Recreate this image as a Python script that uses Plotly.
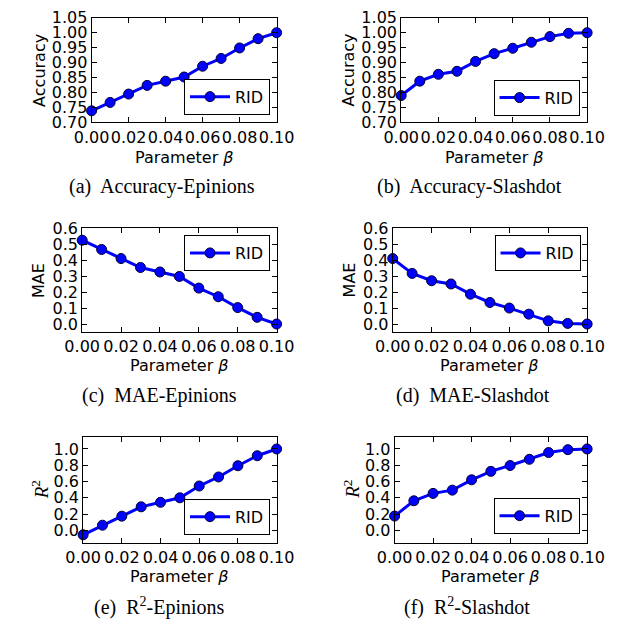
import plotly.graph_objects as go

W, H = 641, 634

beta = [0.00, 0.01, 0.02, 0.03, 0.04, 0.05, 0.06, 0.07, 0.08, 0.09, 0.10]

acc_epinions = [0.739, 0.767, 0.795, 0.824, 0.838, 0.852, 0.888, 0.914, 0.949, 0.980, 1.000]
acc_slashdot = [0.790, 0.838, 0.861, 0.871, 0.904, 0.930, 0.948, 0.968, 0.987, 0.998, 1.000]
mae_epinions = [0.525, 0.467, 0.410, 0.354, 0.326, 0.298, 0.225, 0.171, 0.103, 0.042, 0.000]
mae_slashdot = [0.410, 0.317, 0.271, 0.251, 0.187, 0.135, 0.100, 0.062, 0.020, 0.004, 0.000]
r2_epinions = [-0.055, 0.063, 0.174, 0.289, 0.344, 0.400, 0.545, 0.656, 0.794, 0.917, 1.000]
r2_slashdot = [0.175, 0.363, 0.454, 0.494, 0.621, 0.725, 0.797, 0.873, 0.956, 0.992, 1.000]

series_name = "RID"
x_title = "Parameter <i>β</i>"
y_titles = ["Accuracy", "Accuracy", "MAE", "MAE", "<i>R</i><sup>2</sup>", "<i>R</i><sup>2</sup>"]
captions = ["(a)  Accuracy-Epinions", "(b)  Accuracy-Slashdot",
            "(c)  MAE-Epinions", "(d)  MAE-Slashdot",
            "(e)  R<sup>2</sup>-Epinions", "(f)  R<sup>2</sup>-Slashdot"]
x_ticks = [0.00, 0.02, 0.04, 0.06, 0.08, 0.10]

data = [acc_epinions, acc_slashdot, mae_epinions, mae_slashdot, r2_epinions, r2_slashdot]

# layout (pixels)
boxes = [  # x0, x1, y0(top), y1(bottom)
    (78, 274, 9, 117), (406, 603, 9, 117),
    (68, 274, 226, 333), (397, 603, 226, 333),
    (69, 274, 441, 550), (399, 603, 441, 550),
]
yranges = [(0.70, 1.05), (0.70, 1.05), (-0.05, 0.6), (-0.05, 0.6), (-0.15, 1.15), (-0.15, 1.15)]
ydticks = [0.05, 0.05, 0.1, 0.1, 0.2, 0.2]
yfmts = [".2f", ".2f", ".1f", ".1f", ".1f", ".1f"]
legend_pos = [  # right, y (px) and anchor
    (267, 109, "bottom"), (595, 110, "bottom"),
    (267, 233, "top"), (596, 233, "top"),
    (267, 542, "bottom"), (595, 541, "bottom"),
]
ytitle_x = [22, 350, 21, 351, 23, 353]
xtitle_y = [153, 153, 368, 368, 585, 585]
caption_pos = [(153, 183), (478, 183), (150, 398), (482, 398), (150, 616), (476, 616)]

SANS = "DejaVu Sans"
SERIF = "Liberation Serif"

fig = go.Figure()
layout = dict(width=W, height=H, margin=dict(l=0, r=0, t=0, b=0), autosize=False,
              paper_bgcolor="white", plot_bgcolor="white", showlegend=True,
              annotations=[])

def px(x):
    return x / W

def py(y):
    return 1 - y / H

for i in range(6):
    n = i + 1
    xa = "x" if n == 1 else f"x{n}"
    ya = "y" if n == 1 else f"y{n}"
    lg = "legend" if n == 1 else f"legend{n}"
    fig.add_trace(go.Scatter(
        x=beta, y=data[i], mode="lines+markers", name=series_name,
        xaxis=xa, yaxis=ya, legend=lg, showlegend=True, cliponaxis=False,
        line=dict(color="#0000ff", width=3),
        marker=dict(color="#0000ff", size=10, line=dict(color="#000033", width=1)),
    ))
    x0, x1, yt, yb = boxes[i]
    axcommon = dict(showgrid=False, zeroline=False, showline=True, linecolor="black",
                    linewidth=1, mirror="ticks", ticks="inside", ticklen=5,
                    tickcolor="black", tickfont=dict(family=SANS, size=16, color="black"))
    layout[f"xaxis{'' if n == 1 else n}"] = dict(
        domain=[px(x0), px(x1)], anchor=ya, range=[0, 0.1], tickvals=x_ticks,
        tickformat=".2f", tickangle=0, **axcommon)
    layout[f"yaxis{'' if n == 1 else n}"] = dict(
        domain=[py(yb), py(yt)], anchor=xa, range=list(yranges[i]),
        dtick=ydticks[i], tick0=0, tickformat=yfmts[i], **axcommon)
    lx, ly, anc = legend_pos[i]
    layout[lg] = dict(x=px(lx), y=py(ly), xanchor="right", yanchor=anc,
                      xref="paper", yref="paper", visible=True,
                      bordercolor="black", borderwidth=1, bgcolor="white",
                      font=dict(family=SANS, size=16, color="black"),
                      itemwidth=40, tracegroupgap=0)
    # axis titles
    layout["annotations"].append(dict(
        x=px((x0 + x1) / 2), y=py(xtitle_y[i]), xref="paper", yref="paper",
        text=x_title, showarrow=False, xanchor="center", yanchor="middle",
        font=dict(family=SANS, size=16, color="black")))
    ytext = y_titles[i]
    is_r2 = "<i>R" in ytext
    layout["annotations"].append(dict(
        x=px(ytitle_x[i]), y=py((yt + yb) / 2), xref="paper", yref="paper",
        text=ytext, showarrow=False, textangle=-90, xanchor="center", yanchor="middle",
        font=dict(family=SERIF if is_r2 else SANS, size=19 if is_r2 else 16, color="black")))
    cx, cy = caption_pos[i]
    layout["annotations"].append(dict(
        x=px(cx), y=py(cy), xref="paper", yref="paper", text=captions[i],
        showarrow=False, xanchor="center", yanchor="middle",
        font=dict(family=SERIF, size=20, color="black")))

fig.update_layout(**layout)
fig.write_html("out.html")
